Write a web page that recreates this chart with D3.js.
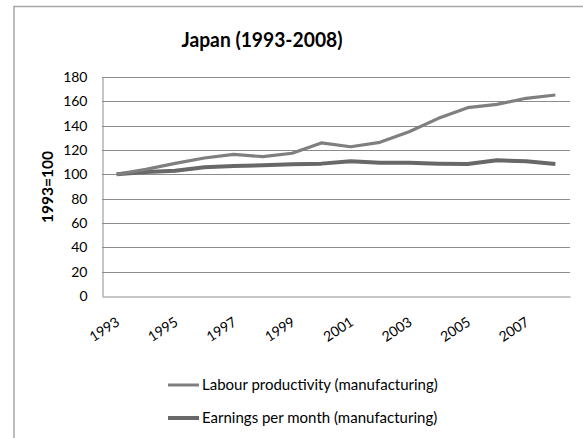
<!DOCTYPE html>
<html>
<head>
<meta charset="utf-8">
<script src="https://cdn.jsdelivr.net/npm/d3@7"></script>
<style>
  html, body { margin: 0; padding: 0; background: #fff; }
  svg { display: block; font-family: Lato, "Open Sans", sans-serif; }
</style>
</head>
<body>
<svg id="chart" width="583" height="438"></svg>
<script>
// Index values, 1993 = 100
const years = [1993, 1994, 1995, 1996, 1997, 1998, 1999, 2000,
               2001, 2002, 2003, 2004, 2005, 2006, 2007, 2008];
const productivity = [100, 104.1, 109, 113.4, 116.4, 114.5, 117.3, 125.8,
                      122.7, 126.3, 135, 146, 154.8, 157.5, 162.5, 165.2];
const earnings = [100, 102, 103, 105.8, 106.8, 107.4, 108.2, 108.8,
                  110.7, 109.6, 109.6, 108.8, 108.5, 111.5, 110.7, 108.5];
const yTicks = [0, 20, 40, 60, 80, 100, 120, 140, 160, 180];
const xTickYears = [1993, 1995, 1997, 1999, 2001, 2003, 2005, 2007];
const seriesNames = ["Labour productivity (manufacturing)", "Earnings per month (manufacturing)"];

const svg = d3.select("#chart");
const plot = { left: 102, right: 570, top: 77, bottom: 296 };

// outer frame
svg.append("path")
  .attr("d", "M14,438 L14,6.5 L583,6.5")
  .attr("fill", "none").attr("stroke", "#a6a6a6").attr("stroke-width", 1.5);

// title
svg.append("text")
  .attr("x", 262).attr("y", 47)
  .attr("text-anchor", "middle")
  .attr("font-size", 20).attr("font-weight", "bold").attr("fill", "#000")
  .attr("textLength", 161).attr("lengthAdjust", "spacingAndGlyphs")
  .text("Japan (1993-2008)");

const x = d3.scaleBand().domain(years).range([plot.left, plot.right]);
const y = d3.scaleLinear().domain([0, 180]).range([plot.bottom, plot.top]);
const cx = d => x(d) + x.bandwidth() / 2;

// horizontal gridlines
svg.append("g").selectAll("line").data(yTicks.filter(v => v > 0)).join("line")
  .attr("x1", plot.left).attr("x2", plot.right)
  .attr("y1", d => Math.round(y(d)) + 0.5).attr("y2", d => Math.round(y(d)) + 0.5)
  .attr("stroke", "#8c8c8c").attr("stroke-width", 1);

// y axis
const yAxis = svg.append("g")
  .attr("transform", `translate(${plot.left + 0.5},0)`)
  .call(d3.axisLeft(y).tickValues(yTicks).tickSize(0).tickPadding(15));
yAxis.select(".domain").attr("stroke", "#8c8c8c");
yAxis.selectAll("text").attr("font-size", 14).attr("fill", "#000")
  .attr("font-family", "Lato, sans-serif");

// x axis
const xAxis = svg.append("g")
  .attr("transform", `translate(0,${Math.round(plot.bottom) + 0.5})`)
  .call(d3.axisBottom(x).tickValues(xTickYears).tickSize(0).tickFormat(d3.format("d")));
xAxis.select(".domain").attr("stroke", "#8c8c8c");
xAxis.selectAll("text")
  .attr("font-size", 14).attr("fill", "#000").attr("font-family", "Lato, sans-serif")
  .attr("text-anchor", "end")
  .attr("transform", "translate(4,28) rotate(-33)")
  .attr("dy", 0).attr("y", 0).attr("x", 0);

// y axis title
svg.append("text")
  .attr("transform", "translate(53,187) rotate(-90)")
  .attr("text-anchor", "middle")
  .attr("font-size", 15).attr("font-weight", "bold").attr("fill", "#000")
  .attr("textLength", 72).attr("lengthAdjust", "spacingAndGlyphs")
  .text("1993=100");

// series lines
const line = d3.line().x((d, i) => cx(years[i])).y(d => y(d));
svg.append("path").datum(earnings)
  .attr("d", line).attr("fill", "none")
  .attr("stroke", "#686868").attr("stroke-width", 4).attr("stroke-linejoin", "round");
svg.append("path").datum(productivity)
  .attr("d", line).attr("fill", "none")
  .attr("stroke", "#7f7f7f").attr("stroke-width", 3.2).attr("stroke-linejoin", "round");

// legend
const legend = svg.append("g");
const legendRows = [
  { name: seriesNames[0], color: "#7f7f7f", width: 3, y: 385, len: 230 },
  { name: seriesNames[1], color: "#686868", width: 4, y: 418, len: 230 }
];
legendRows.forEach(r => {
  legend.append("line")
    .attr("x1", 168).attr("x2", 199).attr("y1", r.y).attr("y2", r.y)
    .attr("stroke", r.color).attr("stroke-width", r.width);
  legend.append("text")
    .attr("x", 202).attr("y", r.y + 5)
    .attr("font-size", 15).attr("fill", "#000")
    .text(r.name);
});
</script>
</body>
</html>
